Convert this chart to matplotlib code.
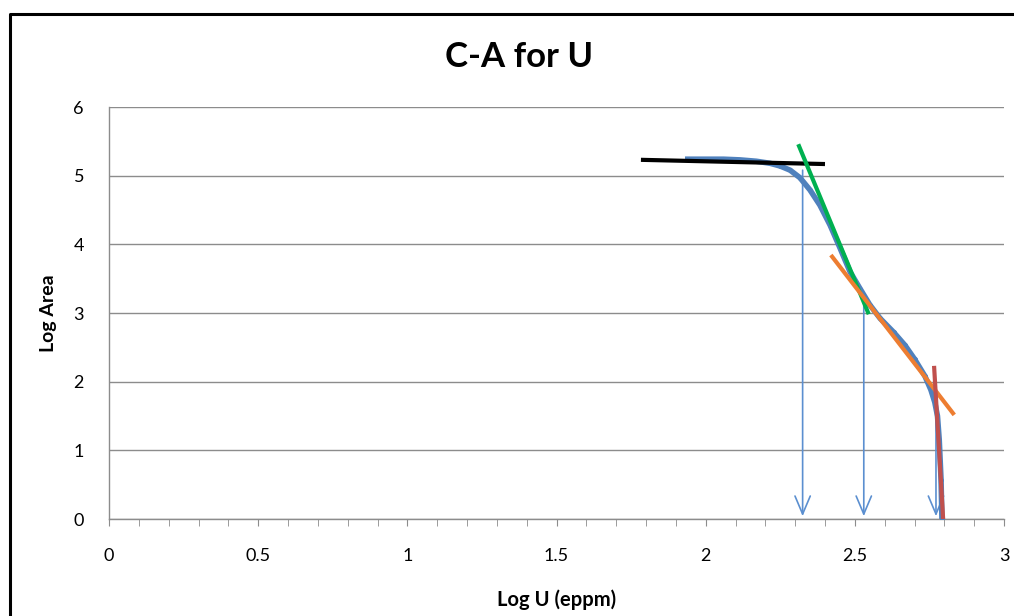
import numpy as np
import matplotlib.pyplot as plt
from matplotlib.lines import Line2D

plt.rcParams['font.family'] = ['Lato', 'DejaVu Sans']

# C-A curve (log concentration vs log area)
log_u = [1.94, 2.00, 2.06, 2.115, 2.17, 2.216, 2.25, 2.283, 2.316, 2.35, 2.383,
         2.417, 2.45, 2.484, 2.518, 2.55, 2.585, 2.63, 2.668, 2.70, 2.735,
         2.755, 2.768, 2.777, 2.783, 2.789, 2.792]
log_area = [5.24, 5.24, 5.24, 5.23, 5.21, 5.18, 5.14, 5.08, 4.97, 4.79, 4.57,
            4.28, 3.95, 3.60, 3.35, 3.12, 2.92, 2.72, 2.53, 2.33, 2.08,
            1.88, 1.70, 1.50, 1.15, 0.57, 0.0]

# fitted segments: (x0, x1), (y0, y1)
seg_black_x = [1.79, 2.393]
seg_black_y = [5.23, 5.17]
seg_green_x = [2.313, 2.544]
seg_green_y = [5.43, 3.01]
seg_orange_x = [2.424, 2.829]
seg_orange_y = [3.82, 1.54]
seg_red_x = [2.766, 2.796]
seg_red_y = [2.20, 0.0]

# threshold arrows
thr_x = [2.325, 2.53, 2.772]
thr_top = [5.12, 3.19, 1.85]

fig = plt.figure(figsize=(10.14, 6.16), dpi=100)
ax = fig.add_axes([109 / 1014, 1 - 519 / 616, (1004 - 109) / 1014, (519 - 107) / 616])

ax.plot(log_u, log_area, color='#4F81BD', lw=4, zorder=3,
        marker='o', markersize=2.5)
ax.plot(seg_black_x, seg_black_y, color='black', lw=3, zorder=4)
ax.plot(seg_green_x, seg_green_y, color='#00B050', lw=3, zorder=4)
ax.plot(seg_orange_x, seg_orange_y, color='#ED7D31', lw=3, zorder=4)
ax.plot(seg_red_x, seg_red_y, color='#C0504D', lw=3, zorder=5)

for x, top in zip(thr_x, thr_top):
    ax.annotate('', xy=(x, 0), xytext=(x, top),
                arrowprops=dict(arrowstyle='->,head_length=1.3,head_width=0.55',
                                color='#5B8FD0', lw=1.2), zorder=2)

ax.set_xlim(0, 3)
ax.set_ylim(0, 6)
ax.set_xticks(np.arange(0, 3.01, 0.5))
ax.set_xticklabels(['0', '0.5', '1', '1.5', '2', '2.5', '3'])
ax.set_xticks(np.arange(0, 3.01, 0.1), minor=True)
ax.set_yticks(range(0, 7))
ax.grid(axis='y', color='#8C8C8C', lw=1)
ax.set_axisbelow(True)
for s in ['top', 'right']:
    ax.spines[s].set_visible(False)
for s in ['left', 'bottom']:
    ax.spines[s].set_color('#8C8C8C')
    ax.spines[s].set_linewidth(1)
ax.tick_params(axis='x', which='both', direction='out', length=5, color='#8C8C8C',
               pad=16, labelsize=13)
ax.tick_params(axis='y', length=0, pad=18, labelsize=13)

fig.text(519 / 1014, 1 - 57 / 616, 'C-A for U', fontsize=25, fontweight='bold',
         ha='center', va='center')
ax.set_xlabel('Log U (eppm)', fontsize=14.5, fontweight='bold')
ax.xaxis.set_label_coords(0.5, -0.197)
ax.xaxis.label.set_va('center')
ax.set_ylabel('Log Area', fontsize=14, fontweight='bold')
ax.yaxis.set_label_coords(-0.068, 0.5)
ax.yaxis.label.set_va('center')

# chart border (left and top visible)
fig.add_artist(Line2D([10 / 1014, 10 / 1014, 1.0], [0.0, 1 - 14 / 616, 1 - 14 / 616],
                      transform=fig.transFigure, color='black', lw=2.2))

fig.savefig('out.png', dpi=100)
